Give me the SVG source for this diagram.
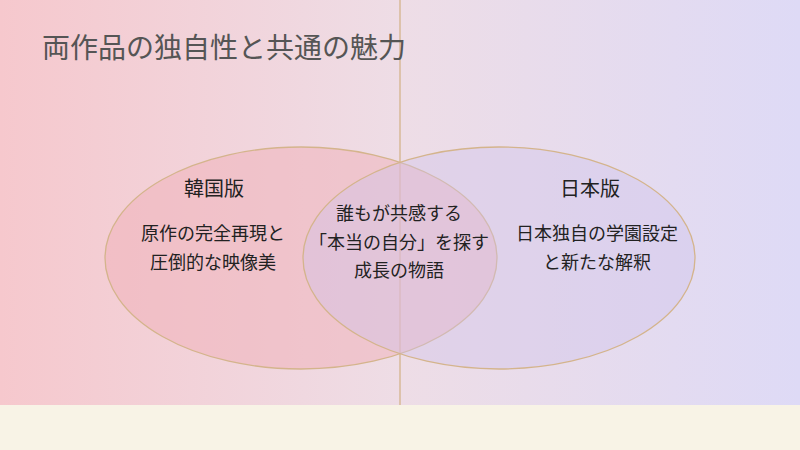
<svg xmlns="http://www.w3.org/2000/svg" width="800" height="450" viewBox="0 0 800 450">
<defs>
<linearGradient id="bg" x1="0" y1="0" x2="1" y2="0">
<stop offset="0" stop-color="#f6c8cd"/>
<stop offset="0.5" stop-color="#eedde6"/>
<stop offset="1" stop-color="#dedaf6"/>
</linearGradient>
<style>
text{font-family:"Noto Sans CJK JP","Noto Sans",sans-serif;fill:#222;text-anchor:middle}
.t{font-size:18px}
.h{font-size:20px}
.c{stroke:#d4b48c;stroke-width:1.3}
</style>
</defs>
<rect width="800" height="405" fill="url(#bg)"/>
<rect y="405" width="800" height="45" fill="#f8f3e6"/>
<line x1="400" y1="0" x2="400" y2="405" stroke="#d4b48c" stroke-width="1.3"/>
<text x="42" y="58" style="font-size:28px;fill:#555;text-anchor:start">両作品の独自性と共通の魅力</text>
<g id="korea">
<ellipse class="c" cx="301" cy="258" rx="196" ry="111" fill="#f0b0b8" fill-opacity="0.5"/>
<text class="h" x="214" y="196">韓国版</text>
<text class="t" x="213" y="240">原作の完全再現と</text>
<text class="t" x="213" y="269">圧倒的な映像美</text>
</g>
<g id="japan">
<ellipse class="c" cx="499" cy="258" rx="196" ry="111" fill="#d0c4ec" fill-opacity="0.4"/>
<text class="h" x="590" y="196">日本版</text>
<text class="t" x="597" y="240">日本独自の学園設定</text>
<text class="t" x="597" y="269">と新たな解釈</text>
</g>
<g id="common">
<text class="t" x="399" y="220">誰もが共感する</text>
<text class="t" x="399" y="249">「本当の自分」を探す</text>
<text class="t" x="399" y="277">成長の物語</text>
</g>
</svg>
